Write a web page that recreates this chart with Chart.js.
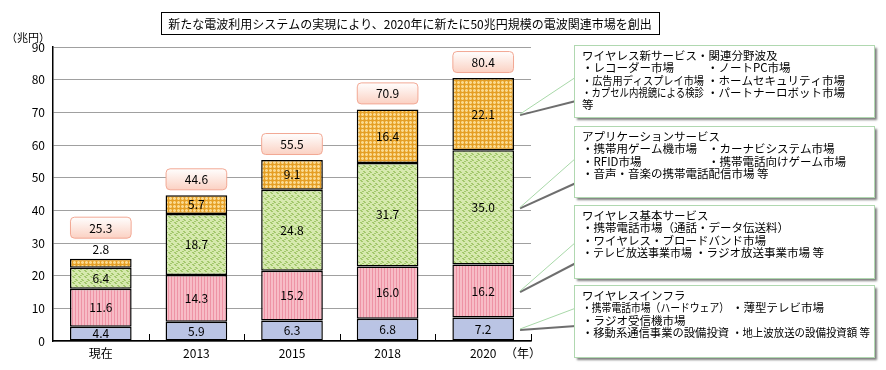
<!DOCTYPE html>
<html><head><meta charset="utf-8">
<script src="https://cdn.jsdelivr.net/npm/chart.js@4"></script>
<style>html,body{margin:0;padding:0;background:#fff}#wrap{width:886px;height:370px;position:relative}</style>
</head><body><div id="wrap"><canvas id="c"></canvas></div>
<script>
const categories = ["現在", "2013", "2015", "2018", "2020"];
const infraValues = [4.4, 5.9, 6.3, 6.8, 7.2];
const basicValues = [11.6, 14.3, 15.2, 16.0, 16.2];
const appValues = [6.4, 18.7, 24.8, 31.7, 35.0];
const newSvcValues = [2.8, 5.7, 9.1, 16.4, 22.1];
const totalValues = [25.3, 44.6, 55.5, 70.9, 80.4];
const yMin = 0, yMax = 90, yStep = 10;
const yUnit = "（兆円）";
const xUnit = "（年）";
const titleText = "新たな電波利用システムの実現により、2020年に新たに50兆円規模の電波関連市場を創出";
// callout texts, top box first; each row: [left column, right column]
const calloutNewSvc = ["ワイヤレス新サービス・関連分野波及",
  ["・レコーダー市場", "・ノートPC市場"],
  ["・広告用ディスプレイ市場", "・ホームセキュリティ市場"],
  ["・カプセル内視鏡による検診", "・パートナーロボット市場"],
  ["等", ""]];
const calloutApp = ["アプリケーションサービス",
  ["・携帯用ゲーム機市場", "・カーナビシステム市場"],
  ["・RFID市場", "・携帯電話向けゲーム市場"],
  ["・音声・音楽の携帯電話配信市場 等", ""]];
const calloutBasic = ["ワイヤレス基本サービス",
  ["・携帯電話市場（通話・データ伝送料）", ""],
  ["・ワイヤレス・ブロードバンド市場", ""],
  ["・テレビ放送事業市場", "・ラジオ放送事業市場 等"]];
const calloutInfra = ["ワイヤレスインフラ",
  ["・携帯電話市場（ハードウェア）", "・薄型テレビ市場"],
  ["・ラジオ受信機市場", ""],
  ["・移動系通信事業の設備投資", "・地上波放送の設備投資額 等"]];

const FONT = "'Noto Sans CJK JP', 'Noto Sans', sans-serif";

function makePattern(w, h, draw) {
  const c = document.createElement('canvas');
  c.width = w; c.height = h;
  const g = c.getContext('2d');
  draw(g);
  return document.getElementById('c').getContext('2d').createPattern(c, 'repeat');
}
const blueFill = '#bac4e4';
const pinkFill = makePattern(3, 3, g => {
  g.fillStyle = '#f7bcc6'; g.fillRect(0, 0, 3, 3);
  g.fillStyle = '#ee93a5'; g.fillRect(0, 0, 1, 3);
});
const greenFill = makePattern(6, 6, g => {
  g.fillStyle = '#d6e9ae'; g.fillRect(0, 0, 6, 6);
  g.fillStyle = '#a3c86c';
  [[0,0],[1,0],[1,1],[2,1],[3,3],[4,3],[4,4],[5,4],[2,5],[3,5]].forEach(p => g.fillRect(p[0], p[1], 1, 1));
});
const orangeFill = makePattern(4, 4, g => {
  g.fillStyle = '#f2bd52'; g.fillRect(0, 0, 4, 4);
  g.fillStyle = '#f9d890'; g.fillRect(2, 0, 1, 4); g.fillRect(0, 2, 4, 1);
  g.fillStyle = '#e49e26'; g.fillRect(0, 0, 1, 4); g.fillRect(0, 0, 4, 1);
});

const segBox = {
  id: 'annot',
  afterDatasetsDraw(chart) {
    const ctx = chart.ctx;
    const area = chart.chartArea;
    ctx.save();
    // category boundary ticks (inward)
    ctx.strokeStyle = '#000'; ctx.lineWidth = 1;
    const n = categories.length;
    for (let i = 1; i <= n; i++) {
      const x = Math.round(area.left + i * (area.right - area.left) / n) + 0.5;
      ctx.beginPath(); ctx.moveTo(x, area.bottom); ctx.lineTo(x, area.bottom - 7); ctx.stroke();
    }
    // segment labels
    ctx.fillStyle = '#000';
    ctx.font = '12px ' + FONT;
    ctx.textAlign = 'center'; ctx.textBaseline = 'middle';
    const topLabelShift = [];
    const lastDs = chart.data.datasets.length - 1;
    chart.data.datasets.forEach((ds, di) => {
      const meta = chart.getDatasetMeta(di);
      meta.data.forEach((bar, i) => {
        const h = Math.abs(bar.base - bar.y);
        const v = ds.data[i].toFixed(1);
        if (di === lastDs && h < 12) {
          ctx.fillText(v, bar.x, bar.y - 9);
          topLabelShift[i] = 15;
        } else {
          ctx.fillText(v, bar.x, (bar.y + bar.base) / 2);
        }
      });
    });
    // total boxes
    const lastMeta = chart.getDatasetMeta(lastDs);
    lastMeta.data.forEach((bar, i) => {
      const w = bar.width, bh = 21;
      const bottom = bar.y - 6 - (topLabelShift[i] || 0);
      const x0 = bar.x - w / 2, y0 = bottom - bh;
      const grd = ctx.createLinearGradient(0, y0, 0, bottom);
      grd.addColorStop(0, '#ffffff'); grd.addColorStop(1, '#fbd2c4');
      ctx.beginPath(); ctx.roundRect(x0 + 0.5, y0 + 0.5, w - 1, bh, 4);
      ctx.fillStyle = grd; ctx.fill();
      ctx.strokeStyle = '#f2a894'; ctx.lineWidth = 1; ctx.stroke();
      ctx.fillStyle = '#000';
      ctx.fillText(totalValues[i].toFixed(1), bar.x, y0 + bh / 2 + 1);
    });
    ctx.restore();
  },
  afterDraw(chart) {
    const ctx = chart.ctx;
    const area = chart.chartArea;
    ctx.save();
    // unit labels
    ctx.fillStyle = '#000';
    ctx.font = '11px ' + FONT;
    ctx.textBaseline = 'middle'; ctx.textAlign = 'left';
    ctx.fillText(yUnit, 6, 38);
    ctx.font = '12px ' + FONT;
    ctx.fillText(xUnit, area.right - 26, 353);
    // title box
    ctx.strokeStyle = '#000'; ctx.lineWidth = 1;
    ctx.strokeRect(161.5, 12.5, 498, 22);
    ctx.textAlign = 'center';
    ctx.font = '12px ' + FONT;
    ctx.fillText(titleText, 410, 24);
    // callouts
    const lastIdx = categories.length - 1;
    const refBar = chart.getDatasetMeta(0).data[lastIdx];
    const tipX = refBar.x + refBar.width / 2 + 6;
    const segMid = di => {
      const b = chart.getDatasetMeta(di).data[lastIdx];
      return (b.y + b.base) / 2;
    };
    const boxes = [
      { text: calloutNewSvc, ds: 3, top: 45, h: 72, up: 77, lo: 100, col2: 707 },
      { text: calloutApp, ds: 2, top: 126, h: 71, up: 158, lo: 182, col2: 708 },
      { text: calloutBasic, ds: 1, top: 205, h: 73, up: 242, lo: 262, col2: 695 },
      { text: calloutInfra, ds: 0, top: 285, h: 72, up: 308, lo: 325, col2: 732 }
    ];
    const bx = 574, bw = 300;
    boxes.forEach(b => {
      const ty = segMid(b.ds);
      // wedge
      ctx.beginPath();
      ctx.moveTo(tipX, ty); ctx.lineTo(bx + 2, b.up); ctx.lineTo(bx + 2, b.lo); ctx.closePath();
      ctx.fillStyle = '#fff'; ctx.fill();
      ctx.strokeStyle = 'rgba(85,85,85,0.85)'; ctx.lineWidth = 2;
      ctx.beginPath(); ctx.moveTo(tipX, ty + 1); ctx.lineTo(bx + 2, b.lo + 1); ctx.stroke();
      ctx.strokeStyle = '#a8d8a8'; ctx.lineWidth = 1;
      ctx.beginPath(); ctx.moveTo(tipX, ty); ctx.lineTo(bx + 2, b.up); ctx.stroke();
      // box with shadow
      ctx.save();
      ctx.shadowColor = 'rgba(0,0,0,0.5)'; ctx.shadowOffsetX = 3; ctx.shadowOffsetY = 3; ctx.shadowBlur = 2;
      ctx.fillStyle = '#fff'; ctx.fillRect(bx, b.top, bw, b.h);
      ctx.restore();
      ctx.strokeStyle = '#b0d8b0'; ctx.lineWidth = 1;
      ctx.strokeRect(bx + 0.5, b.top + 0.5, bw, b.h);
      // text
      ctx.fillStyle = '#000'; ctx.textAlign = 'left'; ctx.textBaseline = 'middle';
      ctx.font = '11.5px ' + FONT;
      const tx = 582;
      let y = b.top + 10.5;
      ctx.fillText(b.text[0], tx, y);
      for (let r = 1; r < b.text.length; r++) {
        y += 12.4;
        const row = b.text[r];
        if (row[1]) {
          ctx.fillText(row[0], tx, y, b.col2 - tx - 3);
          ctx.fillText(row[1], b.col2, y, bx + bw - b.col2 - 4);
        } else {
          ctx.fillText(row[0], tx, y, bw - 12);
        }
      }
    });
    ctx.restore();
  }
};

const yTickValues = [];
for (let v = yMin; v <= yMax; v += yStep) yTickValues.push(v);

new Chart(document.getElementById('c'), {
  type: 'bar',
  data: {
    labels: categories,
    datasets: [
      { label: 'ワイヤレスインフラ', data: infraValues, backgroundColor: blueFill },
      { label: 'ワイヤレス基本サービス', data: basicValues, backgroundColor: pinkFill },
      { label: 'アプリケーションサービス', data: appValues, backgroundColor: greenFill },
      { label: 'ワイヤレス新サービス・関連分野波及', data: newSvcValues, backgroundColor: orangeFill }
    ].map(d => Object.assign(d, { borderColor: '#000', borderWidth: 1.5, borderSkipped: false, barPercentage: 0.645, categoryPercentage: 1 }))
  },
  options: {
    responsive: true, maintainAspectRatio: false, animation: false,
    devicePixelRatio: 1,
    layout: { padding: { left: 0, right: 355, top: 47, bottom: 0 } },
    plugins: { legend: { display: false }, tooltip: { enabled: false } },
    scales: {
      x: {
        stacked: true,
        grid: { display: false, drawTicks: false },
        border: { color: '#000', width: 1.5 },
        ticks: { color: '#000', font: { size: 12, family: FONT }, padding: 5 },
        afterFit(s) { s.height = 29; }
      },
      y: {
        stacked: true, min: yMin, max: yMax,
        afterBuildTicks(s) { s.ticks = yTickValues.map(v => ({ value: v })); },
        ticks: { color: '#000', font: { size: 12, family: FONT }, padding: 8 },
        grid: { color: '#a0a0a0', drawTicks: false, lineWidth: 1 },
        border: { color: '#000', width: 1.5 },
        afterFit(s) { s.width = 53; }
      }
    }
  },
  plugins: [segBox]
});
</script>
</body></html>
